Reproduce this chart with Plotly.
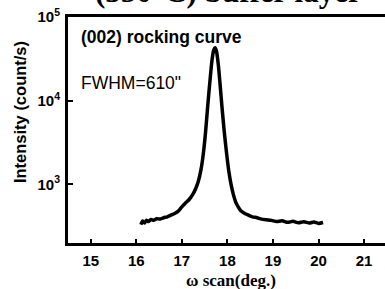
import plotly.graph_objects as go

# data
omega = [16.10, 16.14, 16.18, 16.22, 16.27, 16.32, 16.38, 16.45, 16.52, 16.60, 16.68, 16.76, 16.84,
         16.92, 17.00, 17.08, 17.16, 17.24, 17.30, 17.36, 17.42, 17.47, 17.52, 17.57, 17.62, 17.66,
         17.70, 17.73, 17.76, 17.80, 17.84, 17.88, 17.93, 17.98, 18.03, 18.08, 18.13, 18.18, 18.24,
         18.30, 18.38, 18.46, 18.55, 18.65, 18.75, 18.86, 18.97, 19.08, 19.20, 19.32, 19.44, 19.56,
         19.68, 19.80, 19.90, 20.00, 20.10]
counts = [330, 365, 345, 372, 360, 380, 372, 390, 385, 400, 410, 430, 450,
          480, 540, 600, 660, 760, 880, 1080, 1500, 2300, 4200, 9000, 18000, 30000,
          40500, 43000, 39000, 27000, 15500, 8500, 4300, 2400, 1450, 1000, 760, 620, 535,
          480, 450, 430, 410, 400, 385, 378, 372, 360, 368, 352, 362, 348, 358,
          345, 356, 342, 350]

x_ticks = [15, 16, 17, 18, 19, 20, 21]
y_ticks = [1e3, 1e4, 1e5]
y_tick_text = ["10<sup>3</sup>", "10<sup>4</sup>", "10<sup>5</sup>"]

fig = go.Figure()
fig.add_trace(go.Scatter(x=omega, y=counts, mode="lines",
                         line=dict(color="black", width=3.5, shape="spline", smoothing=0.6),
                         showlegend=False, hoverinfo="skip"))

fig.update_layout(
    width=385, height=289,
    margin=dict(l=68, r=0, t=17, b=46, autoexpand=False),
    paper_bgcolor="white", plot_bgcolor="white",
    font=dict(family="Liberation Sans, Arial", color="black"),
    xaxis=dict(range=[14.5, 21.46], tickvals=x_ticks, ticks="inside", ticklen=4, tickwidth=2,
               tickcolor="black", showline=True, linecolor="black", linewidth=3, mirror=True,
               showgrid=False, zeroline=False, automargin=False,
               tickfont=dict(family="Liberation Sans, Arial", size=15, color="black", weight="bold"),
               ticklabelstandoff=2),
    yaxis=dict(type="log", range=[2.30, 5.0], tickvals=y_ticks, ticktext=y_tick_text,
               ticks="inside", ticklen=5, tickwidth=2, tickcolor="black", automargin=False,
               showline=True, linecolor="black", linewidth=3, showgrid=False, zeroline=False,
               tickfont=dict(family="Liberation Sans, Arial", size=15, color="black", weight="bold"),
               ticklabelstandoff=2),
)

fig.add_annotation(text="<b>Intensity (count/s)</b>", xref="paper", yref="paper",
                   x=-0.151, y=0.58, xanchor="center", yanchor="middle", textangle=-90,
                   showarrow=False,
                   font=dict(family="Liberation Sans, Arial", size=16.5, color="black"))
fig.add_annotation(text="<b>(002) rocking curve</b>", xref="paper", yref="paper",
                   x=0.035, y=0.91, xanchor="left", yanchor="middle", showarrow=False,
                   font=dict(family="Liberation Sans, Arial", size=17.5, color="black"))
fig.add_annotation(text="FWHM=610\"", xref="paper", yref="paper",
                   x=0.035, y=0.71, xanchor="left", yanchor="middle", showarrow=False,
                   font=dict(family="Liberation Sans, Arial", size=17.5, color="black"))
fig.add_annotation(text="<b>ω scan(deg.)</b>", xref="paper", yref="paper",
                   x=0.515, y=-0.164, xanchor="center", yanchor="middle", showarrow=False,
                   font=dict(family="Liberation Serif, Times New Roman", size=17, color="black"))
fig.add_annotation(text="<b>(350°C) buffer layer</b>", xref="paper", yref="paper",
                   x=0.08, y=1.028, xanchor="left", yanchor="bottom", showarrow=False,
                   font=dict(family="Liberation Serif, Times New Roman", size=31, color="black"))

fig.write_html("out.html", config={"displayModeBar": False},
               post_script="document.body.style.margin='0';document.body.style.padding='0';")
